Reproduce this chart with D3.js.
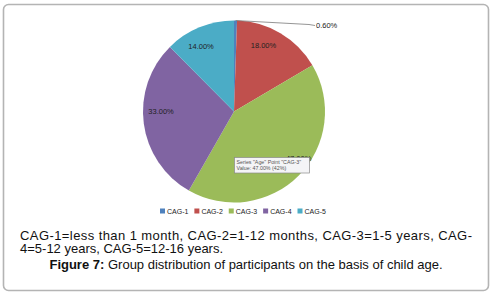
<!DOCTYPE html>
<html>
<head>
<meta charset="utf-8">
<script src="https://cdnjs.cloudflare.com/ajax/libs/d3/7.8.5/d3.min.js"></script>
<style>
  body { margin: 0; background: #fff; }
  svg { display: block; }
</style>
</head>
<body>
<script>
// chart data
var categories = ["CAG-1", "CAG-2", "CAG-3", "CAG-4", "CAG-5"]
var values = [0.6, 18, 47, 33, 14]
var labels = ["0.60%", "18.00%", "47.00%", "33.00%", "14.00%"]
var colors = ["#4F81BD", "#C0504D", "#9BBB59", "#8064A2", "#4BACC6"]

var W = 493, H = 295
var svg = d3.select("body").append("svg")
            .attr("width", W).attr("height", H)

// outer frame
svg.append("rect")
   .attr("x", 3.5).attr("y", 4.5)
   .attr("width", 485).attr("height", 286)
   .attr("rx", 5)
   .attr("fill", "#fff")
   .attr("stroke", "#b4b4b4")
   .attr("stroke-width", 1.6)

var cx = 234, cy = 111.5, r = 91
var g = svg.append("g").attr("transform", "translate(" + cx + "," + cy + ")")

var pie = d3.pie().sort(null).value(d => d)
var arcs = pie(values)
var arc = d3.arc().innerRadius(0).outerRadius(r)

g.selectAll("path.slice")
 .data(arcs)
 .enter().append("path")
 .attr("class", "slice")
 .attr("d", arc)
 .attr("fill", (d, i) => colors[i])

// label positions (data label fractions of radius)
var labelArc = d3.arc().innerRadius(r * 0.72).outerRadius(r * 0.72)
var offsets = [null, [-4, -10], [18, 1], [-8, -9], [-8, -4]]
arcs.forEach((d, i) => {
    if (i === 0) return
    var p = labelArc.centroid(d)
    g.append("text")
     .attr("x", p[0] + offsets[i][0]).attr("y", p[1] + offsets[i][1])
     .attr("text-anchor", "middle")
     .attr("dominant-baseline", "central")
     .attr("font-family", "Liberation Sans, Arial, sans-serif")
     .attr("font-size", 7.5)
     .attr("fill", "#222")
     .text(labels[i])
})

// leader line for the small slice
var a0 = (arcs[0].startAngle + arcs[0].endAngle) / 2
var p0 = [Math.sin(a0) * r, -Math.cos(a0) * r]
g.append("polyline")
 .attr("points", [p0, [75, -87], [81, -86]].map(p => p.join(",")).join(" "))
 .attr("fill", "none")
 .attr("stroke", "#7a7a7a")
 .attr("stroke-width", 0.8)
g.append("text")
 .attr("x", 82).attr("y", -86)
 .attr("dominant-baseline", "central")
 .attr("font-family", "Liberation Sans, Arial, sans-serif")
 .attr("font-size", 7.5)
 .attr("fill", "#222")
 .text(labels[0])

// tooltip box over the CAG-3 slice
var tip = svg.append("g").attr("transform", "translate(234,157)")
tip.append("rect")
   .attr("x", 0.5).attr("y", 0.5).attr("width", 75).attr("height", 15.5)
   .attr("fill", "#f4f4f6").attr("stroke", "#8a8a8a").attr("stroke-width", 0.7)
tip.append("text").attr("x", 2.5).attr("y", 6.5)
   .attr("font-family", "Liberation Sans, Arial, sans-serif").attr("font-size", 5.3).attr("fill", "#555")
   .text('Series "Age" Point "CAG-3"')
tip.append("text").attr("x", 2.5).attr("y", 13.2)
   .attr("font-family", "Liberation Sans, Arial, sans-serif").attr("font-size", 5.3).attr("fill", "#555")
   .text("Value: 47.00% (42%)")

// legend
var legend = svg.append("g").attr("transform", "translate(160,211)")
var lx = d3.scalePoint().domain(categories).range([0, 137.5])
categories.forEach((c, i) => {
    var item = legend.append("g").attr("transform", "translate(" + lx(c) + ",0)")
    item.append("rect").attr("x", 0).attr("y", -2.5).attr("width", 5).attr("height", 5)
        .attr("fill", colors[i])
    item.append("text").attr("x", 7).attr("y", 0)
        .attr("dominant-baseline", "central")
        .attr("font-family", "Liberation Sans, Arial, sans-serif")
        .attr("font-size", 7).attr("fill", "#222")
        .text(c)
})

// caption text
var captionFont = "Liberation Sans, Arial, sans-serif"
svg.append("text").attr("x", 20).attr("y", 239.5)
   .attr("font-family", captionFont).attr("font-size", 13).attr("fill", "#111")
   .attr("textLength", 452).attr("lengthAdjust", "spacing")
   .text("CAG-1=less than 1 month, CAG-2=1-12 months, CAG-3=1-5 years, CAG-")
svg.append("text").attr("x", 20).attr("y", 253)
   .attr("font-family", captionFont).attr("font-size", 13).attr("fill", "#111")
   .text("4=5-12 years, CAG-5=12-16 years.")
var fig = svg.append("text").attr("x", 246).attr("y", 269)
   .attr("text-anchor", "middle")
   .attr("font-family", captionFont).attr("font-size", 13).attr("fill", "#111")
fig.append("tspan").attr("font-weight", "bold").text("Figure 7:")
fig.append("tspan").text(" Group distribution of participants on the basis of child age.")
</script>
</body>
</html>
